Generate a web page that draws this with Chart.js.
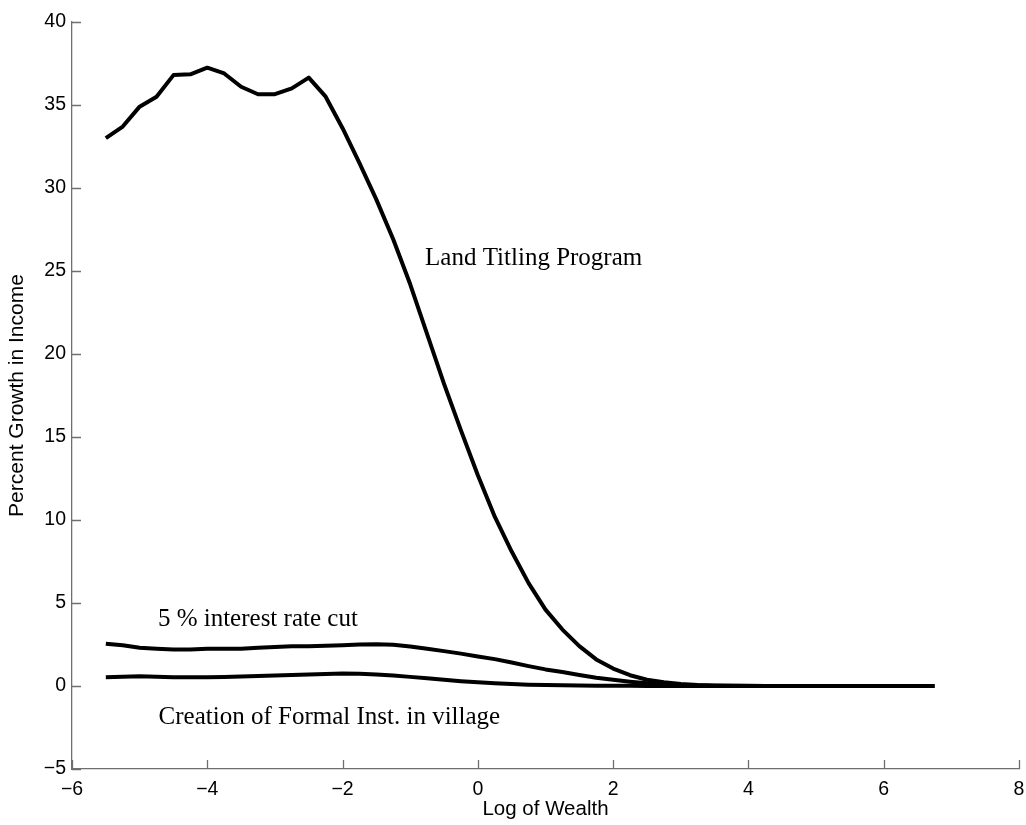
<!DOCTYPE html>
<html>
<head>
<meta charset="utf-8">
<script src="https://cdn.jsdelivr.net/npm/chart.js@4.4.1/dist/chart.umd.min.js"></script>
<style>
  html, body { margin: 0; padding: 0; background: #ffffff; }
  canvas { display: block; }
</style>
</head>
<body>
<canvas id="chart" width="1026" height="825"></canvas>
<script>
// Log of wealth grid shared by all three policy simulations
const logWealth = [
  -5.5, -5.25, -5, -4.75, -4.5, -4.25, -4, -3.75, -3.5, -3.25,
  -3, -2.75, -2.5, -2.25, -2, -1.75, -1.5, -1.25, -1, -0.75,
  -0.5, -0.25, 0, 0.25, 0.5, 0.75, 1, 1.25, 1.5, 1.75,
  2, 2.25, 2.5, 2.75, 3, 3.25, 3.5, 3.75, 4, 4.25,
  4.5, 4.75, 5, 5.25, 5.5, 5.75, 6, 6.25, 6.5, 6.75
];

// Percent growth in income under each policy
const landTitling = [
  33.0, 33.7, 34.9, 35.5, 36.8, 36.85, 37.25, 36.9, 36.1, 35.65,
  35.65, 36.0, 36.65, 35.5, 33.6, 31.5, 29.3, 26.9, 24.2, 21.2,
  18.2, 15.4, 12.7, 10.2, 8.1, 6.2, 4.6, 3.4, 2.4, 1.6,
  1.05, 0.65, 0.38, 0.22, 0.12, 0.06, 0.03, 0.015, 0.01, 0.005,
  0, 0, 0, 0, 0, 0, 0, 0, 0, 0
];

const rateCut = [
  2.55, 2.45, 2.3, 2.25, 2.2, 2.2, 2.25, 2.25, 2.25, 2.3,
  2.35, 2.4, 2.4, 2.42, 2.45, 2.5, 2.52, 2.48, 2.38, 2.25,
  2.1, 1.95, 1.78, 1.62, 1.42, 1.2, 1.0, 0.84, 0.66, 0.5,
  0.37, 0.26, 0.17, 0.1, 0.06, 0.03, 0.02, 0.01, 0.005, 0,
  0, 0, 0, 0, 0, 0, 0, 0, 0, 0
];

const formalInst = [
  0.52, 0.55, 0.58, 0.55, 0.52, 0.52, 0.52, 0.54, 0.57, 0.6,
  0.63, 0.67, 0.7, 0.73, 0.75, 0.74, 0.7, 0.63, 0.55, 0.46,
  0.37, 0.29, 0.22, 0.16, 0.12, 0.08, 0.06, 0.04, 0.03, 0.02,
  0.015, 0.01, 0.005, 0, 0, 0, 0, 0, 0, 0,
  0, 0, 0, 0, 0, 0, 0, 0, 0, 0
];

// Axis ticks
const xTicks = [-6, -4, -2, 0, 2, 4, 6, 8];
const yTicks = [-5, 0, 5, 10, 15, 20, 25, 30, 35, 40];

// Curve labels, placed in data coordinates (left edge, baseline)
const noteText = ['Land Titling Program', '5 % interest rate cut', 'Creation of Formal Inst. in village'];
const noteX = [-0.78, -4.73, -4.72];
const noteY = [25.36, 3.63, -2.29];

const AXIS_COLOR = '#6f6f6f';
const minus = v => String(v).replace('-', '\u2212');
const toPoints = ys => logWealth.map((x, i) => ({ x: x, y: ys[i] }));

const lineStyle = {
  borderColor: '#000000',
  borderWidth: 4,
  pointRadius: 0,
  tension: 0,
  fill: false,
  borderJoinStyle: 'round',
  borderCapStyle: 'butt'
};

// MATLAB-style inward tick marks and in-plot text labels
const decorations = {
  id: 'decorations',
  afterDraw(chart) {
    const { ctx, chartArea, scales } = chart;
    const xs = scales.x, ys = scales.y;
    ctx.save();
    ctx.strokeStyle = AXIS_COLOR;
    ctx.lineWidth = 1.3;
    ctx.beginPath();
    xs.ticks.forEach(t => {
      const px = Math.round(xs.getPixelForValue(t.value)) + 0.5;
      ctx.moveTo(px, chartArea.bottom);
      ctx.lineTo(px, chartArea.bottom - 9);
    });
    ys.ticks.forEach(t => {
      const py = Math.round(ys.getPixelForValue(t.value)) + 0.5;
      ctx.moveTo(chartArea.left, py);
      ctx.lineTo(chartArea.left + 9, py);
    });
    ctx.stroke();

    ctx.fillStyle = '#000000';
    ctx.font = '25px "Liberation Serif", "Times New Roman", serif';
    ctx.textAlign = 'left';
    ctx.textBaseline = 'alphabetic';
    noteText.forEach((txt, i) => {
      ctx.fillText(txt, xs.getPixelForValue(noteX[i]), ys.getPixelForValue(noteY[i]));
    });
    ctx.restore();
  }
};

new Chart(document.getElementById('chart'), {
  type: 'line',
  data: {
    datasets: [
      Object.assign({ label: 'Land Titling Program', data: toPoints(landTitling) }, lineStyle),
      Object.assign({ label: '5 % interest rate cut', data: toPoints(rateCut) }, lineStyle),
      Object.assign({ label: 'Creation of Formal Inst. in village', data: toPoints(formalInst) }, lineStyle)
    ]
  },
  options: {
    responsive: false,
    devicePixelRatio: 1,
    animation: false,
    layout: { padding: { left: 0, top: 22, right: 7, bottom: 0 } },
    plugins: {
      legend: { display: false },
      tooltip: { enabled: false }
    },
    scales: {
      x: {
        type: 'linear',
        position: 'bottom',
        min: -6,
        max: 8,
        afterBuildTicks: s => { s.ticks = xTicks.map(v => ({ value: v })); },
        afterFit: s => { s.height = 56; s.paddingLeft = 0; s.paddingRight = 0; },
        grid: { display: false, drawTicks: false },
        border: { display: true, color: AXIS_COLOR, width: 1.3 },
        ticks: {
          color: '#000000',
          padding: 9,
          maxRotation: 0,
          font: { family: '"Liberation Sans", Arial, sans-serif', size: 19.5 },
          callback: v => minus(v)
        },
        title: {
          display: true,
          text: 'Log of Wealth',
          color: '#000000',
          font: { family: '"Liberation Sans", Arial, sans-serif', size: 20.5 },
          padding: { top: 0, bottom: 3 }
        }
      },
      y: {
        type: 'linear',
        position: 'left',
        min: -5,
        max: 40,
        afterBuildTicks: s => { s.ticks = yTicks.map(v => ({ value: v })); },
        afterFit: s => { s.width = 72; s.paddingTop = 0; s.paddingBottom = 0; },
        grid: { display: false, drawTicks: false },
        border: { display: true, color: AXIS_COLOR, width: 1.3 },
        ticks: {
          color: '#000000',
          padding: 6,
          font: { family: '"Liberation Sans", Arial, sans-serif', size: 19.5 },
          callback: v => minus(v)
        },
        title: {
          display: true,
          text: 'Percent Growth in Income',
          color: '#000000',
          font: { family: '"Liberation Sans", Arial, sans-serif', size: 21 },
          padding: { top: 5, bottom: 0 }
        }
      }
    }
  },
  plugins: [decorations]
});
</script>
</body>
</html>
